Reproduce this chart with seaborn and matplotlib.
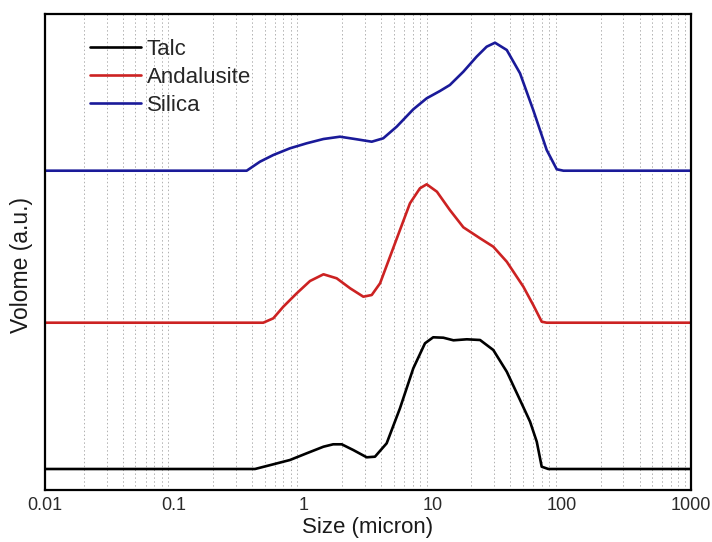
import numpy as np
import pandas as pd
import matplotlib
matplotlib.use("Agg")
import matplotlib.pyplot as plt
from matplotlib.ticker import LogLocator, FixedLocator, FixedFormatter, NullFormatter
import seaborn as sns

# ---- data ----
talc_size = [0.01, 0.422, 0.585, 0.787, 1.06, 1.43, 1.70, 1.98, 2.43, 3.09, 3.58, 4.41, 5.59,
             7.09, 8.73, 10.1, 12.1, 14.5, 18.4, 23.3, 29.5, 37.5, 47.5, 56.8, 64.0, 69.9,
             78.7, 1000]
talc_vol = [0, 0, 4.7, 9, 15.7, 22.3, 24.7, 24.7, 19, 11.7, 12.3, 25.7, 60.7,
            100.7, 125.7, 131.7, 131.3, 128.7, 129.7, 129, 119, 97.3, 69, 47.3, 27.3, 2.3,
            0, 0]

anda_size = [0.01, 0.489, 0.585, 0.699, 0.888, 1.125, 1.43, 1.81, 2.30, 2.91, 3.38, 3.92, 4.68,
             5.59, 6.68, 7.98, 9.0, 10.8, 13.6, 17.3, 23.3, 29.5, 37.5, 50.4, 60.1, 69.9,
             76.4, 1000]
anda_vol = [0, 0, 4.4, 16, 29.4, 41.7, 48.4, 44.4, 34.4, 26, 27.7, 39.4, 66,
            92.7, 119.4, 134.4, 138.4, 131, 112.7, 95.4, 84.4, 76, 61, 36, 17.7, 1,
            0, 0]

sil_size = [0.01, 0.364, 0.461, 0.585, 0.787, 1.06, 1.43, 1.92, 2.59, 3.38, 4.15, 5.27, 7.09,
            9.0, 11.4, 13.6, 17.3, 21.9, 26.2, 30.4, 37.5, 47.5, 60.1, 76.4, 91.4, 103,
            1000]
sil_vol = [0, 0, 9, 15.7, 22.4, 27.4, 31.7, 34, 31.4, 29, 32.4, 44, 61.4,
           72.4, 79.7, 85.7, 99, 114, 124, 128, 120.7, 97.4, 60.7, 20.7, 1.4, 0,
           0]

series_names = ["Talc", "Andalusite", "Silica"]
offsets = [21, 167.3, 319.3]
colors = ["#000000", "#cc2222", "#1a1a99"]
xticks = [0.01, 0.1, 1, 10, 100, 1000]
xtick_labels = ["0.01", "0.1", "1", "10", "100", "1000"]

frames = []
for name, sz, vol, off in zip(series_names, [talc_size, anda_size, sil_size],
                              [talc_vol, anda_vol, sil_vol], offsets):
    frames.append(pd.DataFrame({"size": sz, "vol": np.array(vol) + off, "material": name}))
df = pd.concat(frames, ignore_index=True)

sns.set_style("white")
plt.rcParams["font.family"] = ["Liberation Sans", "DejaVu Sans"]

fig = plt.figure(figsize=(7.12, 5.42), dpi=100)
ax = fig.add_axes([45 / 712, 52 / 542, 646 / 712, 476 / 542])

sns.lineplot(data=df, x="size", y="vol", hue="material", hue_order=series_names,
             palette=colors, linewidth=1.9, sort=False, estimator=None, ax=ax)
for ln in ax.get_lines():
    ln.set_solid_joinstyle("round")

ax.set_xscale("log")
ax.set_xlim(0.01, 1000)
ax.set_ylim(0, 476)
ax.xaxis.set_major_locator(FixedLocator(xticks))
ax.xaxis.set_major_formatter(FixedFormatter(xtick_labels))
ax.xaxis.set_minor_locator(LogLocator(base=10, subs=np.arange(2, 10)))
ax.xaxis.set_minor_formatter(NullFormatter())
ax.grid(False)
ax.grid(which="minor", axis="x", linestyle=(0, (1.5, 2.5)), color="#b0b0b0", linewidth=0.7)
ax.set_yticks([])
ax.tick_params(axis="x", which="major", direction="in", length=0, labelsize=13, pad=5,
               labelcolor="#2a2a2a")
ax.tick_params(axis="x", which="minor", length=0)

for sp in ax.spines.values():
    sp.set_visible(True)
    sp.set_color("black")
    sp.set_linewidth(1.6)

ax.set_xlabel("Size (micron)", fontsize=16, labelpad=2, color="#1a1a1a")
ax.set_ylabel("Volome (a.u.)", fontsize=16.5, color="#1a1a1a")
ax.yaxis.set_label_coords(-0.019, 0.473)

leg = ax.legend(loc="upper left", bbox_to_anchor=(0.056, 0.967), frameon=False, fontsize=16,
                handlelength=2.3, handletextpad=0.25, labelspacing=0.32,
                borderaxespad=0, borderpad=0.4)
for line in leg.get_lines():
    line.set_linewidth(1.9)

fig.savefig("out.png", dpi=100)
